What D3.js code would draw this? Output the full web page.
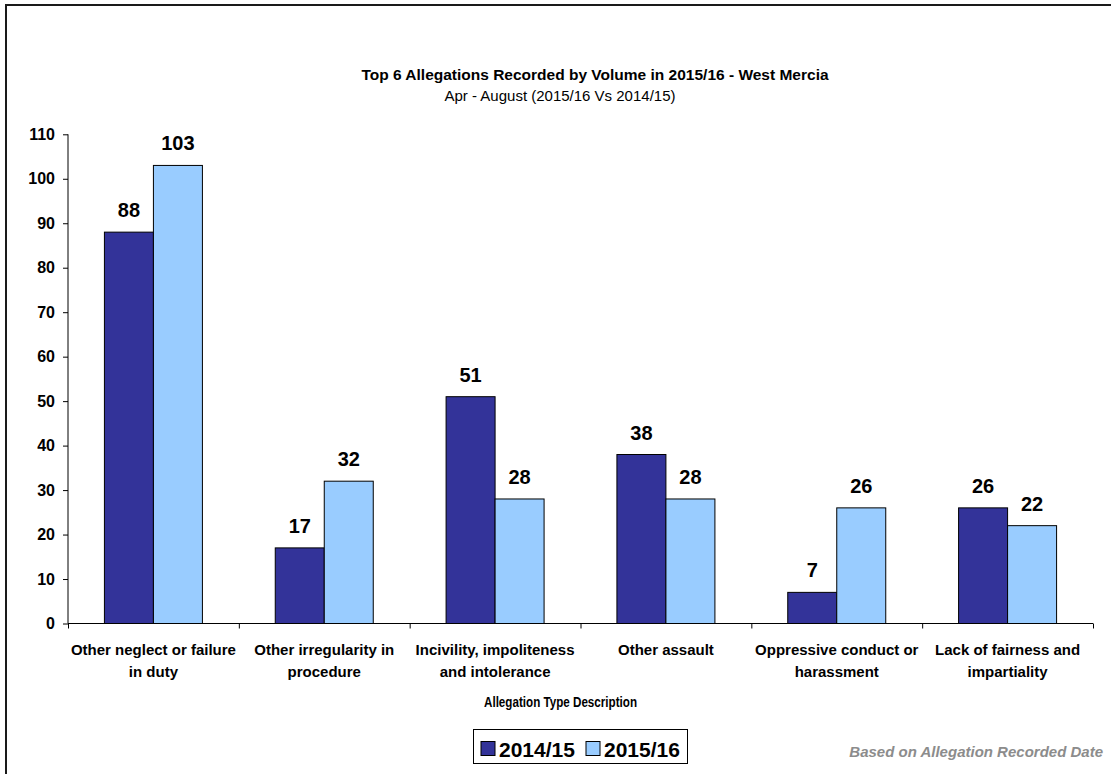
<!DOCTYPE html>
<html>
<head>
<meta charset="utf-8">
<script src="https://cdn.jsdelivr.net/npm/d3@7"></script>
<style>
  body { margin: 0; background: #fff; }
  svg { display: block; font-family: "Liberation Sans", Arial, sans-serif; }
</style>
</head>
<body>
<div id="chart"></div>
<script>
// chart data
var categories = [
    ["Other neglect or failure", "in duty"],
    ["Other irregularity in", "procedure"],
    ["Incivility, impoliteness", "and intolerance"],
    ["Other assault"],
    ["Oppressive conduct or", "harassment"],
    ["Lack of fairness and", "impartiality"]
];
var seriesNames = ["2014/15", "2015/16"];
var values2014 = [88, 17, 51, 38, 7, 26];
var values2015 = [103, 32, 28, 28, 26, 22];
var yTicks = [0, 10, 20, 30, 40, 50, 60, 70, 80, 90, 100, 110];
var colors = ["#333399", "#99ccff"];

var width = 1111, height = 774;
var plotLeft = 68, plotRight = 1093, plotTop = 134.3, plotBottom = 623.5;

var svg = d3.select("#chart").append("svg")
    .attr("width", width)
    .attr("height", height);

// outer frame
svg.append("rect")
    .attr("x", 6).attr("y", 5)
    .attr("width", width + 10).attr("height", height + 10)
    .attr("fill", "#fff")
    .attr("stroke", "#1a1a1a")
    .attr("stroke-width", 2);

// titles
svg.append("text")
    .attr("x", 595).attr("y", 80)
    .attr("text-anchor", "middle")
    .style("font-size", "15.5px").style("font-weight", "bold")
    .text("Top 6 Allegations Recorded by Volume in 2015/16 - West Mercia");
svg.append("text")
    .attr("x", 560).attr("y", 101)
    .attr("text-anchor", "middle")
    .style("font-size", "15px")
    .text("Apr - August (2015/16 Vs 2014/15)");

var y = d3.scaleLinear().domain([0, 110]).range([plotBottom, plotTop]);
var x0 = d3.scaleBand().domain(d3.range(categories.length)).range([plotLeft, plotRight]);
var x1 = d3.scaleBand().domain([0, 1]).range([0, 98]);
var groupOffset = (x0.bandwidth() - 98) / 2;

// y axis
var yAxis = svg.append("g")
    .attr("transform", "translate(" + plotLeft + ",0)")
    .call(d3.axisLeft(y).tickValues(yTicks).tickSize(5).tickPadding(8));
yAxis.selectAll("text")
    .style("font-size", "16px").style("font-weight", "bold")
    .style("font-family", "Liberation Sans, Arial, sans-serif")
    .attr("fill", "#000");
yAxis.selectAll("line, path").attr("stroke", "#000");
yAxis.select(".domain").attr("d", "M0," + plotBottom + "V" + plotTop);

// bars
var rows = categories.map(function(c, i){
    return { i: i, vals: [values2014[i], values2015[i]] };
});
var groups = svg.selectAll("g.cat").data(rows).enter().append("g")
    .attr("class", "cat")
    .attr("transform", function(d){ return "translate(" + (x0(d.i) + groupOffset) + ",0)"; });

groups.selectAll("rect").data(function(d){ return d.vals; }).enter().append("rect")
    .attr("x", function(d, j){ return x1(j); })
    .attr("y", function(d){ return y(d); })
    .attr("width", x1.bandwidth())
    .attr("height", function(d){ return plotBottom - y(d); })
    .attr("fill", function(d, j){ return colors[j]; })
    .attr("stroke", "#000")
    .attr("stroke-width", 1);

groups.selectAll("text.val").data(function(d){ return d.vals; }).enter().append("text")
    .attr("class", "val")
    .attr("x", function(d, j){ return x1(j) + x1.bandwidth() / 2; })
    .attr("y", function(d){ return y(d) - 15; })
    .attr("text-anchor", "middle")
    .style("font-size", "20px").style("font-weight", "bold")
    .text(function(d){ return d; });

// x axis with ticks on category boundaries
var xb = d3.scaleLinear().domain([0, categories.length]).range([plotLeft, plotRight]);
var xAxis = svg.append("g")
    .attr("transform", "translate(0," + plotBottom + ")")
    .call(d3.axisBottom(xb).tickValues(d3.range(categories.length + 1)).tickSize(5).tickFormat(""));
xAxis.selectAll("line, path").attr("stroke", "#000");
xAxis.select(".domain").attr("d", "M" + plotLeft + ",0H" + plotRight);

// category labels
categories.forEach(function(lines, i){
    var t = svg.append("text")
        .attr("text-anchor", "middle")
        .attr("y", 655)
        .style("font-size", "15px").style("font-weight", "bold");
    lines.forEach(function(line, k){
        t.append("tspan")
            .attr("x", x0(i) + x0.bandwidth() / 2)
            .attr("dy", k === 0 ? 0 : 22)
            .text(line);
    });
});

// axis title, squeezed a bit like the narrow font of the original
svg.append("text")
    .attr("x", 484).attr("y", 707)
    .attr("textLength", 153)
    .attr("lengthAdjust", "spacingAndGlyphs")
    .style("font-size", "14px").style("font-weight", "bold")
    .text("Allegation Type Description");

// legend
var legend = svg.append("g");
legend.append("rect")
    .attr("x", 473.5).attr("y", 729.5)
    .attr("width", 214).attr("height", 34)
    .attr("fill", "#fff").attr("stroke", "#000").attr("stroke-width", 1);
var legendX = [481, 586];
seriesNames.forEach(function(name, j){
    legend.append("rect")
        .attr("x", legendX[j]).attr("y", 741.5)
        .attr("width", 14).attr("height", 14)
        .attr("fill", colors[j]).attr("stroke", "#000").attr("stroke-width", 1);
    legend.append("text")
        .attr("x", legendX[j] + 18).attr("y", 757)
        .style("font-size", "21px").style("font-weight", "bold")
        .text(name);
});

svg.append("text")
    .attr("x", 1103).attr("y", 757)
    .attr("text-anchor", "end")
    .attr("fill", "#8c8c8c")
    .style("font-size", "15px").style("font-weight", "bold").style("font-style", "italic")
    .text("Based on Allegation Recorded Date");
</script>
</body>
</html>
